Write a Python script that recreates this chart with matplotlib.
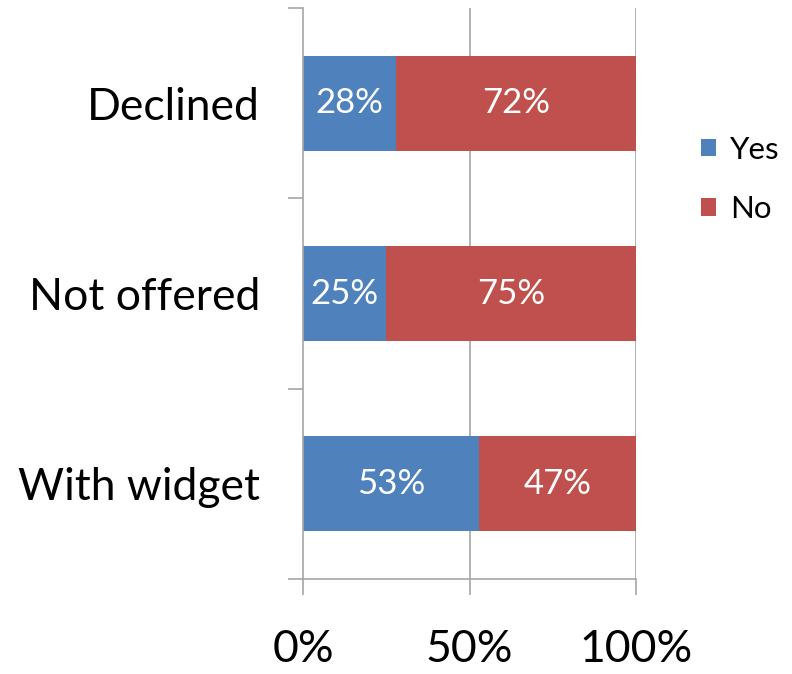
import matplotlib.pyplot as plt
from matplotlib.ticker import FixedLocator, NullFormatter

categories = ["With widget", "Not offered", "Declined"]
yes_pct = [53, 25, 28]
no_pct = [47, 75, 72]
x_ticks = [0, 50, 100]
x_labels = ["0%", "50%", "100%"]

BLUE = "#4F81BD"
RED = "#C0504D"
GRID = "#A6A6A6"

plt.rcParams["font.family"] = ["Lato", "DejaVu Sans"]

fig = plt.figure(figsize=(7.92, 6.74), dpi=100)
ax = fig.add_axes([303 / 792, 1 - 579 / 674, 333 / 792, 571 / 674])

pos = list(range(len(categories)))
b1 = ax.barh(pos, yes_pct, height=0.5, color=BLUE, label="Yes")
b2 = ax.barh(pos, no_pct, left=yes_pct, height=0.5, color=RED, label="No")

for vals, lefts in [(yes_pct, [0] * 3), (no_pct, yes_pct)]:
    for p, v, l in zip(pos, vals, lefts):
        ax.text(l + v / 2, p, f"{v}%", ha="center", va="center",
                color="white", fontsize=25)

ax.set_xlim(0, 100)
ax.set_ylim(-0.5, 2.5)
ax.set_xticks(x_ticks)
ax.set_xticklabels(x_labels, fontsize=32)
ax.set_yticks(pos)
ax.set_yticklabels(categories, fontsize=32)
ax.yaxis.set_minor_locator(FixedLocator([-0.5, 0.5, 1.5, 2.5]))
ax.yaxis.set_minor_formatter(NullFormatter())
ax.tick_params(axis="y", which="major", length=0, pad=31)
ax.tick_params(axis="y", which="minor", length=11, color=GRID, width=1.2)
ax.tick_params(axis="x", length=11.5, color=GRID, width=1.2, pad=24.5)

for x in x_ticks[1:]:
    ax.axvline(x, color=GRID, lw=1.2, zorder=0)
for s in ["top", "right"]:
    ax.spines[s].set_visible(False)
for s in ["left", "bottom"]:
    ax.spines[s].set_color(GRID)
    ax.spines[s].set_linewidth(1.2)

ax.legend(handles=[b1, b2], loc="center left", bbox_to_anchor=(1.194, 0.7),
          frameon=False, fontsize=22.5, borderpad=0, borderaxespad=0,
          handlelength=0.5, handleheight=0.5, labelspacing=1.0,
          handletextpad=0.45)

fig.savefig("out.png", dpi=100)
